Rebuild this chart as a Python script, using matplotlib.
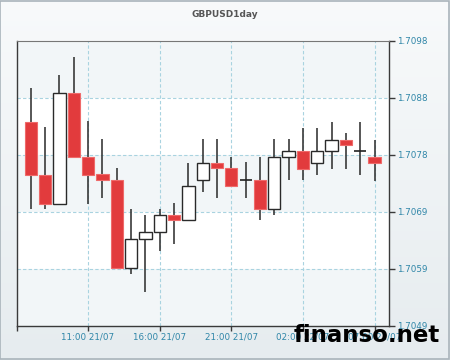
import matplotlib
matplotlib.use("Agg")
import matplotlib.pyplot as plt
import numpy as np
from matplotlib.patches import Rectangle

# ---- data ----
hours = list(range(25))  # hourly candles, 07:00 21/07 .. 07:00 22/07
opens  = [1.70839, 1.70748, 1.70698, 1.70888, 1.70779, 1.70749, 1.70739, 1.70589, 1.70639, 1.70650,
          1.70679, 1.70670, 1.70739, 1.70768, 1.70759, 1.70739, 1.70739, 1.70689, 1.70779, 1.70788,
          1.70768, 1.70788, 1.70808, 1.70788, 1.70779]
highs  = [1.70897, 1.70829, 1.70918, 1.70949, 1.70840, 1.70809, 1.70760, 1.70689, 1.70679, 1.70689,
          1.70699, 1.70768, 1.70809, 1.70809, 1.70779, 1.70769, 1.70779, 1.70809, 1.70809, 1.70828,
          1.70828, 1.70839, 1.70819, 1.70839, 1.70808]
lows   = [1.70689, 1.70689, 1.70697, 1.70779, 1.70698, 1.70709, 1.70589, 1.70579, 1.70548, 1.70618,
          1.70629, 1.70670, 1.70718, 1.70709, 1.70728, 1.70709, 1.70670, 1.70679, 1.70739, 1.70739,
          1.70748, 1.70758, 1.70758, 1.70748, 1.70738]
closes = [1.70748, 1.70698, 1.70888, 1.70779, 1.70748, 1.70739, 1.70589, 1.70639, 1.70650, 1.70679,
          1.70670, 1.70728, 1.70768, 1.70759, 1.70728, 1.70739, 1.70689, 1.70779, 1.70788, 1.70758,
          1.70788, 1.70808, 1.70799, 1.70788, 1.70768]

ytick_vals = [1.70490, 1.705875, 1.70685, 1.707825, 1.70880, 1.709775]
ytick_labels = ["1.7049", "1.7059", "1.7069", "1.7078", "1.7088", "1.7098"]
xtick_pos = [4, 9, 14, 19, 24]
xtick_labels = ["11:00 21/07", "16:00 21/07", "21:00 21/07", "02:00 22/07", "07:00 22/07"]
title = "GBPUSD1day"

# ---- figure ----
fig = plt.figure(figsize=(4.5, 3.6), dpi=100)
fig.patch.set_facecolor("#eef2f4")

# gradient background
bg = fig.add_axes([0, 0, 1, 1], zorder=-5)
grad = np.linspace(0, 1, 256).reshape(-1, 1)
from matplotlib.colors import LinearSegmentedColormap
cmap = LinearSegmentedColormap.from_list("bg", ["#f8fafb", "#e6ecef"])
bg.imshow(grad, aspect="auto", cmap=cmap, extent=[0, 1, 0, 1])
bg.set_axis_off()
fig.patches.append(Rectangle((0.001, 0.002), 0.997, 0.995, transform=fig.transFigure,
                             fill=False, edgecolor="#a9b4bb", lw=1.2))

ax = fig.add_axes([0.0378, 0.0953, 0.8266, 0.7922])
ymin, ymax = ytick_vals[0], ytick_vals[-1]
ax.set_ylim(ymin, ymax)
ax.set_xlim(-0.955, 25.0)

# bands
for i in range(len(ytick_vals) - 1):
    col = "#ffffff" if (len(ytick_vals) - 2 - i) % 2 == 1 else "#f2f6f8"
    ax.axhspan(ytick_vals[i], ytick_vals[i + 1], color=col, zorder=0, lw=0)

# grid
for v in ytick_vals[1:-1]:
    ax.axhline(v, color="#a9d3e0", lw=0.8, ls=(0, (3, 2)), zorder=1)
for p in xtick_pos:
    ax.axvline(p, color="#a9d3e0", lw=0.8, ls=(0, (3, 2)), zorder=1)

bw = 0.86
for x, o, h, l, c in zip(hours, opens, highs, lows, closes):
    ax.vlines(x, l, h, color="#3a3a3a", lw=1.2, zorder=2)
    if c < o:
        ax.add_patch(Rectangle((x - bw / 2, c), bw, o - c, facecolor="#e23b3d",
                               edgecolor="#ef6a6a", lw=0.8, zorder=3))
    elif c > o:
        ax.add_patch(Rectangle((x - bw / 2, o), bw, c - o, facecolor="#ffffff",
                               edgecolor="#2a2a2a", lw=1.0, zorder=3))
    else:
        ax.hlines(o, x - bw / 2, x + bw / 2, color="#222222", lw=1.2, zorder=3)

# spines
for s in ["left", "bottom", "right"]:
    ax.spines[s].set_color("#3a3a3a")
    ax.spines[s].set_linewidth(1.0)
ax.spines["top"].set_color("#777777")
ax.spines["top"].set_linewidth(0.8)

ax.yaxis.tick_right()
ax.set_yticks(ytick_vals)
ax.set_yticklabels(ytick_labels)
ax.set_xticks([-0.955] + xtick_pos)
ax.set_xticklabels([""] + xtick_labels)
ax.tick_params(axis="y", direction="out", length=4, width=1, color="#3a3a3a",
               labelsize=6.3, labelcolor="#2f86a8", pad=1.5)
ax.tick_params(axis="x", direction="out", length=3.5, width=1, color="#3a3a3a",
               labelsize=6.3, labelcolor="#2f86a8", pad=1.5)

fig.text(0.5, 0.961, title, ha="center", va="center", fontsize=6.5,
         fontweight="bold", color="#555555")

fig.text(0.653, 0.05, "finanso.net", ha="left", va="baseline", fontsize=16.5,
         fontweight="bold", color="#000000", zorder=10)

fig.savefig("out.png", dpi=100)
